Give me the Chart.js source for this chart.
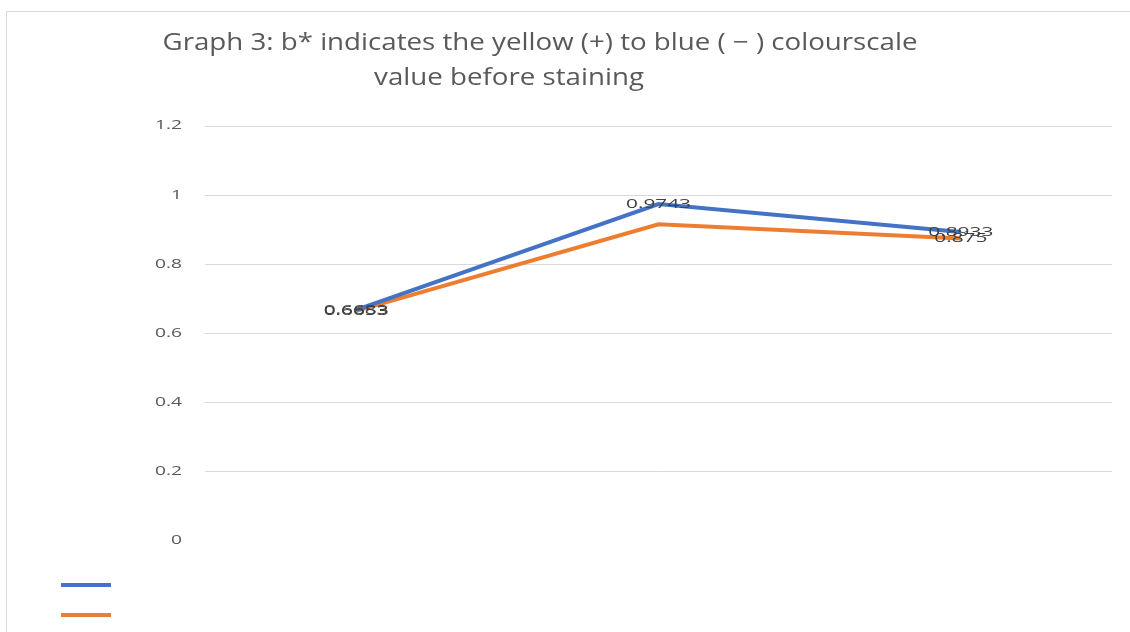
<!DOCTYPE html>
<html>
<head>
<meta charset="utf-8">
<script src="https://cdn.jsdelivr.net/npm/chart.js@4/dist/chart.umd.min.js"></script>
<style>
  html, body { margin: 0; padding: 0; background: #ffffff; }
  #wrap { position: relative; width: 1130px; height: 632px; }
</style>
</head>
<body>
<div id="wrap"><canvas id="c"></canvas></div>
<script>
// Sample groups (no axis labels are shown)
const categories = ['1', '2', '3'];

// b* readings per series
const blueValues = [0.6683, 0.9743, 0.8933];
const orangeValues = [0.6653, 0.916, 0.875];

// Value labels printed next to each point (null = no label)
const blueLabels = ['0.6683', '0.9743', '0.8933'];
const orangeLabels = ['0.6653', null, '0.875'];

// Y axis ticks
const yTicks = [0, 0.2, 0.4, 0.6, 0.8, 1, 1.2];
const yTickLabels = ['0', '0.2', '0.4', '0.6', '0.8', '1', '1.2'];

const titleLines = ['Graph 3: b* indicates the yellow (+) to blue ( \u2212 ) colourscale', 'value before staining'];

const BLUE = '#4472C4';
const ORANGE = '#ED7D31';
const FONT = '"Open Sans", "Noto Sans", sans-serif';

// Draw text squeezed/stretched horizontally by factor sx
function drawText(ctx, text, x, y, font, color, sx, align) {
  ctx.save();
  ctx.font = font;
  ctx.fillStyle = color;
  ctx.textBaseline = 'middle';
  const w = ctx.measureText(text).width * sx;
  let left = x;
  if (align === 'center') left = x - w / 2;
  else if (align === 'right') left = x - w;
  ctx.translate(left, y);
  ctx.scale(sx, 1);
  ctx.textAlign = 'left';
  ctx.fillText(text, 0, 0);
  ctx.restore();
}

const decorPlugin = {
  id: 'decor',
  beforeDraw(chart) {
    const ctx = chart.ctx;
    ctx.save();
    ctx.strokeStyle = '#d9d9d9';
    ctx.lineWidth = 1;
    ctx.beginPath();
    ctx.moveTo(6.5, 700);
    ctx.lineTo(6.5, 11.5);
    ctx.lineTo(1200, 11.5);
    ctx.stroke();
    ctx.restore();
  },
  afterDraw(chart) {
    const ctx = chart.ctx;
    const yScale = chart.scales.y;

    // Title, two centred lines
    const tFont = '23px ' + FONT;
    ctx.save();
    ctx.font = tFont;
    const tsx = 755 / ctx.measureText(titleLines[0]).width;
    ctx.restore();
    drawText(ctx, titleLines[0], 540, 43, tFont, '#595959', tsx, 'center');
    drawText(ctx, titleLines[1], 509, 78, tFont, '#595959', tsx, 'center');

    // Y tick labels
    ctx.save();
    ctx.font = '12px ' + FONT;
    const ysx = 27 / ctx.measureText('0.8').width;
    ctx.restore();
    yTicks.forEach((v, i) => {
      drawText(ctx, yTickLabels[i], 182, yScale.getPixelForValue(v), '12px ' + FONT, '#595959', ysx, 'right');
    });

    // Point value labels
    ctx.save();
    ctx.font = '13px ' + FONT;
    const lsx = 65 / ctx.measureText('0.9743').width;
    ctx.restore();
    const labelSets = [blueLabels, orangeLabels];
    chart.data.datasets.forEach((ds, di) => {
      const meta = chart.getDatasetMeta(di);
      meta.data.forEach((pt, i) => {
        const t = labelSets[di][i];
        if (t === null) return;
        drawText(ctx, t, pt.x, pt.y, '13px ' + FONT, '#404040', lsx, 'center');
      });
    });

    // Legend keys (no text)
    chart.data.datasets.forEach((ds, di) => {
      const y = 585 + di * 30;
      ctx.save();
      ctx.strokeStyle = ds.borderColor;
      ctx.lineWidth = 4;
      ctx.beginPath();
      ctx.moveTo(61, y);
      ctx.lineTo(111, y);
      ctx.stroke();
      ctx.restore();
    });
  }
};

new Chart(document.getElementById('c'), {
  type: 'line',
  data: {
    labels: categories,
    datasets: [
      { data: blueValues, borderColor: BLUE, backgroundColor: BLUE, borderWidth: 4, pointRadius: 0, tension: 0 },
      { data: orangeValues, borderColor: ORANGE, backgroundColor: ORANGE, borderWidth: 4, pointRadius: 0, tension: 0 }
    ]
  },
  options: {
    responsive: true,
    maintainAspectRatio: false,
    animation: false,
    layout: { padding: { left: 0, top: 126, right: 18, bottom: 91 } },
    plugins: { legend: { display: false }, title: { display: false }, tooltip: { enabled: false } },
    scales: {
      x: {
        display: false,
        offset: true
      },
      y: {
        min: 0,
        max: 1.2,
        afterFit(scale) { scale.width = 205; },
        afterBuildTicks(scale) { scale.ticks = yTicks.map(v => ({ value: v })); },
        border: { display: false },
        grid: {
          drawTicks: false,
          color: (c) => (c.tick && c.tick.value === 0 ? 'rgba(0,0,0,0)' : '#d9d9d9'),
          lineWidth: 1
        },
        ticks: { display: false }
      }
    }
  },
  plugins: [decorPlugin]
});
</script>
</body>
</html>
